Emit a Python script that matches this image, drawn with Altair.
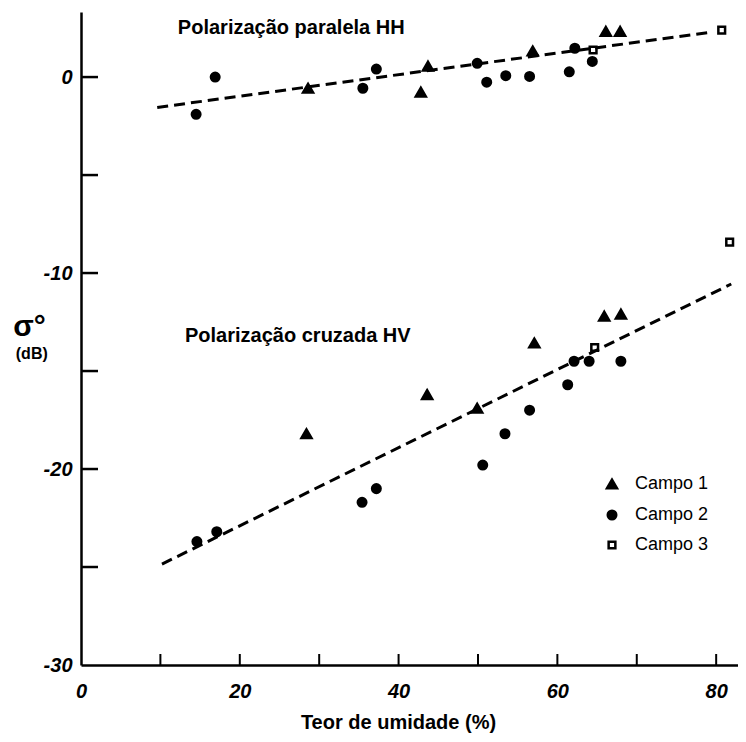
import altair as alt
import pandas as pd

# ---- data ----
campos = ["Campo 1", "Campo 2", "Campo 3"]

hh_c1_x = [28.6, 42.8, 43.7, 56.9, 66.1, 67.9]
hh_c1_y = [-0.57, -0.77, 0.56, 1.33, 2.33, 2.33]
hh_c2_x = [14.5, 16.9, 35.5, 37.2, 49.9, 51.1, 53.5, 56.5, 61.5, 62.2, 64.4]
hh_c2_y = [-1.9, 0.0, -0.57, 0.41, 0.7, -0.26, 0.07, 0.03, 0.27, 1.47, 0.8]
hh_c3_x = [64.5, 80.7]
hh_c3_y = [1.38, 2.4]

hv_c1_x = [28.4, 43.6, 49.9, 57.1, 65.9, 68.0]
hv_c1_y = [-18.2, -16.2, -16.9, -13.57, -12.2, -12.1]
hv_c2_x = [14.6, 17.1, 35.4, 37.2, 50.6, 53.4, 56.5, 61.3, 62.1, 64.0, 68.0]
hv_c2_y = [-23.7, -23.2, -21.7, -21.0, -19.8, -18.2, -17.0, -15.7, -14.5, -14.5, -14.5]
hv_c3_x = [64.7, 81.7]
hv_c3_y = [-13.8, -8.42]

fit_hh_x = [9.6, 79.5]
fit_hh_y = [-1.55, 2.3]
fit_hv_x = [10.2, 81.9]
fit_hv_y = [-24.85, -10.56]

x_label_values = [0, 20, 40, 60, 80]
y_label_values = [0, -10, -20, -30]
x_minor_ticks = [10, 20, 30, 40, 50, 60, 70, 80]
y_minor_ticks = [0, -5, -10, -15, -20, -25]

notes_text = ["Polarização paralela HH", "Polarização cruzada HV"]
notes_x = [12.2, 13.1]
notes_y = [2.5, -13.2]

ytitle_text = ["σ°", "(dB)"]
ytitle_x = [-6.5, -6.2]
ytitle_y = [-12.75, -14.15]
ytitle_size = [30, 16]

# ---- build tables ----
rows = []
for pol, series in [("HH", [(hh_c1_x, hh_c1_y), (hh_c2_x, hh_c2_y), (hh_c3_x, hh_c3_y)]),
                    ("HV", [(hv_c1_x, hv_c1_y), (hv_c2_x, hv_c2_y), (hv_c3_x, hv_c3_y)])]:
    for campo, (xs, ys) in zip(campos, series):
        for xv, yv in zip(xs, ys):
            rows.append({"x": xv, "y": yv, "campo": campo, "pol": pol})
df_pts = pd.DataFrame(rows)

df_fit = pd.DataFrame({
    "x": fit_hh_x + fit_hv_x,
    "y": fit_hh_y + fit_hv_y,
    "pol": ["HH"] * 2 + ["HV"] * 2,
})
df_notes = pd.DataFrame({"x": notes_x, "y": notes_y, "t": notes_text})
df_ytitle = pd.DataFrame({"x": ytitle_x, "y": ytitle_y, "t": ytitle_text, "s": ytitle_size})
df_xt = pd.DataFrame({"x": x_minor_ticks})
df_yt = pd.DataFrame({"y": y_minor_ticks})

FONT = "Liberation Sans"

xscale = alt.Scale(domain=[0, 82.75], nice=False, zero=False)
yscale = alt.Scale(domain=[-30, 3.32], nice=False, zero=False)

X = alt.X("x:Q", scale=xscale, axis=alt.Axis(
    values=x_label_values, ticks=False, grid=False,
    domainColor="black", domainWidth=2.5,
    labelFont=FONT, labelFontSize=20, labelFontStyle="italic", labelFontWeight="bold",
    labelColor="black", labelPadding=16, labelFlush=False, labelOverlap=False,
    title="Teor de umidade (%)", titleFont=FONT, titleFontSize=20, titleFontWeight="bold",
    titleColor="black", titleBaseline="alphabetic", titleX=317, titleY=63,
))
Y = alt.Y("y:Q", scale=yscale, axis=alt.Axis(
    values=y_label_values, ticks=False, grid=False,
    domainColor="black", domainWidth=2.5,
    labelFont=FONT, labelFontSize=20, labelFontStyle="italic", labelFontWeight="bold",
    labelColor="black", labelPadding=9, labelFlush=False, labelOverlap=False,
    labelExpr="'' + datum.value", title=None,
))

legend = alt.Legend(
    orient="none", legendX=522, legendY=463, padding=0,
    labelFont=FONT, labelFontSize=18, labelColor="black", labelOffset=14,
    rowPadding=11, symbolStrokeWidth=2.5, symbolStrokeColor="black",
)

pts = alt.Chart(df_pts).mark_point(strokeWidth=2.5, opacity=1).encode(
    x=X, y=Y,
    shape=alt.Shape("campo:N", title=None,
                    scale=alt.Scale(domain=campos, range=["triangle-up", "circle", "square"]),
                    legend=legend),
    fill=alt.Fill("campo:N", title=None,
                  scale=alt.Scale(domain=campos, range=["black", "black", "white"]),
                  legend=legend),
    stroke=alt.Stroke("campo:N", title=None,
                      scale=alt.Scale(domain=campos, range=["black", "black", "black"]),
                      legend=legend),
    size=alt.Size("campo:N", title=None,
                  scale=alt.Scale(domain=campos, range=[100, 45, 72]),
                  legend=legend),
)

fit = alt.Chart(df_fit).mark_line(color="black", strokeWidth=3, strokeDash=[11, 6]).encode(
    x=X, y=Y, detail="pol:N"
)

notes = alt.Chart(df_notes).mark_text(
    align="left", baseline="middle", font=FONT, fontSize=20, fontWeight="bold", color="black"
).encode(x=X, y=Y, text="t:N")

ytitle = alt.Chart(df_ytitle).mark_text(
    align="center", baseline="middle", font=FONT, fontWeight="bold", color="black"
).encode(x=X, y=Y, text="t:N", size=alt.Size("s:Q", scale=None, legend=None))

xticks = alt.Chart(df_xt).mark_tick(color="black", thickness=2, size=11, opacity=1).encode(
    x=X, y=alt.value(647.5)
)
yticks = alt.Chart(df_yt).mark_tick(color="black", thickness=2.5, size=17, opacity=1).encode(
    y=Y, x=alt.value(8.5)
)

chart = alt.layer(pts, fit, notes, ytitle, xticks, yticks).properties(
    width=657, height=653,
    padding={"left": 73, "top": 4, "right": 0, "bottom": 69},
    autosize=alt.AutoSizeParams(type="none"),
    background="white",
).configure_view(stroke="transparent")

chart.save("out.html", embed_options={"renderer": "svg", "actions": False})
